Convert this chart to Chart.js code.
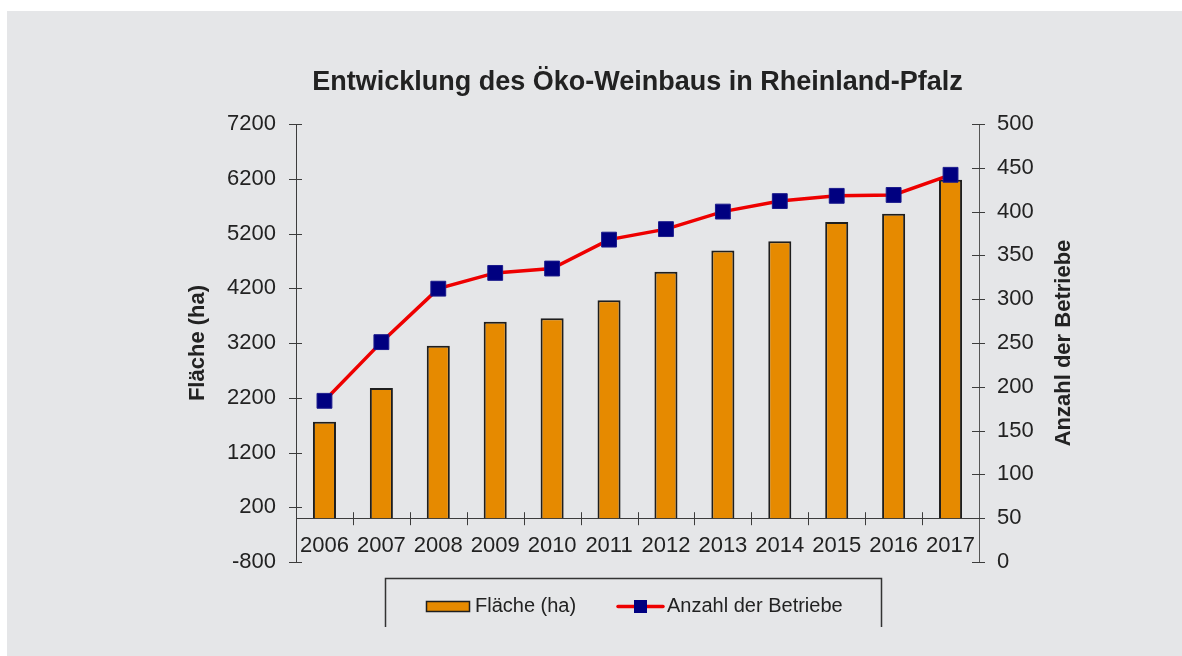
<!DOCTYPE html>
<html lang="de">
<head>
<meta charset="utf-8">
<title>Entwicklung des Öko-Weinbaus in Rheinland-Pfalz</title>
<script src="https://cdn.jsdelivr.net/npm/chart.js@4.4.1/dist/chart.umd.min.js"></script>
<style>
  html, body { margin: 0; padding: 0; background: #ffffff; }
  #chart { display: block; }
</style>
</head>
<body>
<canvas id="chart" width="1182" height="656"></canvas>
<script>
// values
const years = ['2006', '2007', '2008', '2009', '2010', '2011', '2012', '2013', '2014', '2015', '2016', '2017'];
const flaecheHa = [1760, 2380, 3150, 3590, 3650, 3980, 4500, 4890, 5060, 5410, 5560, 6180];
const anzahlBetriebe = [184, 251, 312, 330, 335, 368, 380, 400, 412, 418, 419, 442];

const leftTicks = { min: -800, max: 7200, step: 1000 };
const rightTicks = { min: 0, max: 500, step: 50 };
const rightTitle = 'Anzahl der Betriebe';

const FONT = '"Liberation Sans", Arial, Helvetica, sans-serif';
const TEXT = '#222222';
const AXIS = '#3c3c3c';

Chart.defaults.font.family = FONT;
Chart.defaults.color = TEXT;

// grey panel behind everything
const panelBg = {
  id: 'panelBg',
  beforeDraw(chart) {
    const ctx = chart.ctx;
    ctx.save();
    ctx.fillStyle = '#ffffff';
    ctx.fillRect(0, 0, chart.width, chart.height);
    ctx.fillStyle = '#e5e6e8';
    ctx.fillRect(7, 11, chart.width - 7, chart.height - 11);
    ctx.restore();
  }
};

// Excel style tick marks that cross the axis lines
const crossTicks = {
  id: 'crossTicks',
  afterDraw(chart) {
    const ctx = chart.ctx;
    const { x, y, y1 } = chart.scales;
    ctx.save();
    ctx.strokeStyle = AXIS;
    ctx.lineWidth = 1;
    ctx.beginPath();
    y.ticks.forEach(t => {
      const py = Math.round(y.getPixelForValue(t.value)) + 0.5;
      ctx.moveTo(x.left - 7, py);
      ctx.lineTo(x.left + 6, py);
    });
    y1.ticks.forEach(t => {
      const py = Math.round(y1.getPixelForValue(t.value)) + 0.5;
      ctx.moveTo(x.right - 7, py);
      ctx.lineTo(x.right + 6, py);
    });
    const base = y.getPixelForValue(0);
    for (let i = 0; i < years.length - 1; i++) {
      const px = Math.round((x.getPixelForValue(i) + x.getPixelForValue(i + 1)) / 2) + 0.5;
      ctx.moveTo(px, base - 6);
      ctx.lineTo(px, base + 7);
    }
    ctx.stroke();

    // right axis title reads bottom to top, same as the left one
    ctx.fillStyle = TEXT;
    ctx.font = 'bold 22px ' + FONT;
    ctx.textAlign = 'center';
    ctx.textBaseline = 'middle';
    ctx.translate(y1.right - 15, (y1.top + y1.bottom) / 2);
    ctx.rotate(-Math.PI / 2);
    ctx.fillText(rightTitle, 0, 0);
    ctx.restore();
  }
};

// legend box under the plot, open at the bottom like the original
const boxLegend = {
  id: 'boxLegend',
  afterDraw(chart) {
    const ctx = chart.ctx;
    const bar = chart.data.datasets[1];
    const line = chart.data.datasets[0];
    ctx.save();
    ctx.strokeStyle = '#333333';
    ctx.lineWidth = 1.5;
    ctx.beginPath();
    ctx.moveTo(385.5, 627);
    ctx.lineTo(385.5, 578.5);
    ctx.lineTo(881.5, 578.5);
    ctx.lineTo(881.5, 627);
    ctx.stroke();

    const cy = 606.5;
    ctx.fillStyle = bar.backgroundColor;
    ctx.fillRect(426, 601, 44, 11);
    ctx.strokeStyle = bar.borderColor;
    ctx.lineWidth = 1.5;
    ctx.strokeRect(426.5, 601.5, 43, 10);

    ctx.strokeStyle = line.borderColor;
    ctx.lineWidth = 3.5;
    ctx.lineCap = 'round';
    ctx.beginPath();
    ctx.moveTo(618, cy);
    ctx.lineTo(663, cy);
    ctx.stroke();
    ctx.fillStyle = line.pointBackgroundColor;
    ctx.fillRect(634, cy - 6.5, 13, 13);

    ctx.fillStyle = TEXT;
    ctx.font = '20px ' + FONT;
    ctx.textBaseline = 'middle';
    ctx.textAlign = 'left';
    ctx.fillText(bar.label, 475, cy);
    ctx.fillText(line.label, 667, cy);
    ctx.restore();
  }
};

const ctx = document.getElementById('chart').getContext('2d');
new Chart(ctx, {
  data: {
    labels: years,
    datasets: [{
      type: 'line',
      label: 'Anzahl der Betriebe',
      data: anzahlBetriebe,
      yAxisID: 'y1',
      order: 0,
      borderColor: '#ee0000',
      borderWidth: 3.5,
      tension: 0,
      pointStyle: 'rect',
      pointRadius: 10.5,
      pointBackgroundColor: '#000080',
      pointBorderColor: '#1a1a8c',
      pointBorderWidth: 1
    }, {
      type: 'bar',
      label: 'Fläche (ha)',
      data: flaecheHa,
      yAxisID: 'y',
      order: 1,
      backgroundColor: '#e68a00',
      borderColor: '#1e1e1e',
      borderWidth: 2,
      barPercentage: 0.405,
      categoryPercentage: 1
    }]
  },
  options: {
    responsive: false,
    animation: false,
    layout: {
      padding: { left: 180, right: 103, top: 11, bottom: 94 }
    },
    scales: {
      x: {
        type: 'category',
        position: { y: 0 },
        offset: true,
        grid: { display: false, drawTicks: false },
        border: { display: true, color: AXIS, width: 1 },
        ticks: {
          autoSkip: false,
          maxRotation: 0,
          padding: 15,
          color: TEXT,
          font: { size: 22 }
        }
      },
      y: {
        type: 'linear',
        position: 'left',
        min: leftTicks.min,
        max: leftTicks.max,
        afterFit: s => { s.width = 116; },
        grid: { display: false, drawTicks: false },
        border: { display: true, color: AXIS, width: 1 },
        ticks: {
          stepSize: leftTicks.step,
          autoSkip: false,
          padding: 20,
          color: TEXT,
          font: { size: 22 },
          callback: v => String(v)
        },
        title: {
          display: true,
          text: 'Fläche (ha)',
          color: TEXT,
          font: { size: 22, weight: 'bold' },
          padding: { top: 5, bottom: 0 }
        }
      },
      y1: {
        type: 'linear',
        position: 'right',
        min: rightTicks.min,
        max: rightTicks.max,
        afterFit: s => { s.width = 100; },
        grid: { display: false, drawTicks: false },
        border: { display: true, color: '#555555', width: 1 },
        ticks: {
          stepSize: rightTicks.step,
          autoSkip: false,
          padding: 18,
          color: TEXT,
          font: { size: 22 }
        }
      }
    },
    plugins: {
      legend: { display: false },
      tooltip: { enabled: false },
      title: {
        display: true,
        fullSize: false,
        text: 'Entwicklung des Öko-Weinbaus in Rheinland-Pfalz',
        color: TEXT,
        font: { size: 27, weight: 'bold' },
        padding: { top: 55, bottom: 25.6 }
      }
    }
  },
  plugins: [panelBg, crossTicks, boxLegend]
});
</script>
</body>
</html>
